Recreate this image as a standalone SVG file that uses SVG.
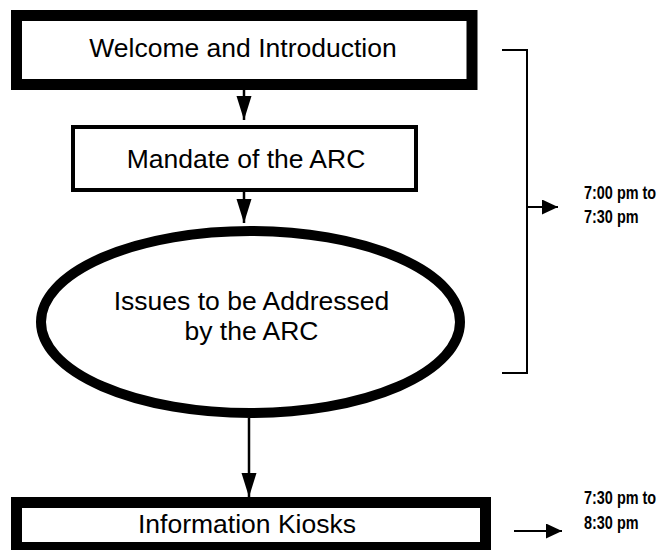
<svg xmlns="http://www.w3.org/2000/svg" width="661" height="550" viewBox="0 0 661 550">
  <style>
    .box { fill: #ffffff; stroke: #000000; }
    .lbl { font-family: "Liberation Sans", Arial, sans-serif; font-size: 26.5px; fill: #000000; text-anchor: middle; }
    .time { font-family: "Liberation Sans", Arial, sans-serif; font-weight: bold; font-size: 19px; fill: #000000; }
    .conn { stroke: #000000; stroke-width: 2.5; fill: none; }
    .brk { stroke: #000000; stroke-width: 2; fill: none; }
  </style>
  <defs>
    <marker id="arrowV" markerUnits="userSpaceOnUse" markerWidth="24" markerHeight="16" refX="24" refY="8" orient="auto">
      <path d="M0,0.5 L24,8 L0,15.5 z" fill="#000000"/>
    </marker>
    <marker id="arrowH" markerUnits="userSpaceOnUse" markerWidth="16" markerHeight="15" refX="16" refY="7.5" orient="auto">
      <path d="M0,0 L16,7.5 L0,15 z" fill="#000000"/>
    </marker>
  </defs>
  <rect width="661" height="550" fill="#ffffff"/>

  <g id="connectors">
    <line class="conn" x1="244" y1="90" x2="244" y2="120" marker-end="url(#arrowV)"/>
    <line class="conn" x1="244" y1="192" x2="244" y2="223" marker-end="url(#arrowV)"/>
    <line class="conn" x1="249" y1="418" x2="249" y2="497" marker-end="url(#arrowV)"/>
    <path class="brk" d="M502,50 H527 V373 H502"/>
    <line class="brk" x1="527" y1="207" x2="558" y2="207" marker-end="url(#arrowH)"/>
    <line class="brk" x1="514" y1="531" x2="562" y2="531" marker-end="url(#arrowH)"/>
  </g>

  <g id="welcome">
    <rect class="box" x="16.5" y="15.5" width="455.5" height="69" stroke-width="11"/>
    <text class="lbl" x="243" y="57">Welcome and Introduction</text>
  </g>

  <g id="mandate">
    <rect class="box" x="73" y="127" width="343" height="63" stroke-width="4"/>
    <text class="lbl" x="246" y="168">Mandate of the ARC</text>
  </g>

  <g id="issues">
    <ellipse class="box" cx="250.5" cy="322" rx="209.5" ry="91" stroke-width="10"/>
    <text class="lbl" x="251.5" y="310">Issues to be Addressed</text>
    <text class="lbl" x="251.5" y="340">by the ARC</text>
  </g>

  <g id="kiosks">
    <rect class="box" x="16.5" y="502.5" width="469" height="45" stroke-width="11"/>
    <text class="lbl" x="247" y="533">Information Kiosks</text>
  </g>

  <g id="time1">
    <text class="time" transform="translate(584,199) scale(0.76,1)">7:00 pm to</text>
    <text class="time" transform="translate(584,223) scale(0.76,1)">7:30 pm</text>
  </g>

  <g id="time2">
    <text class="time" transform="translate(584,504) scale(0.76,1)">7:30 pm to</text>
    <text class="time" transform="translate(584,529) scale(0.76,1)">8:30 pm</text>
  </g>
</svg>
